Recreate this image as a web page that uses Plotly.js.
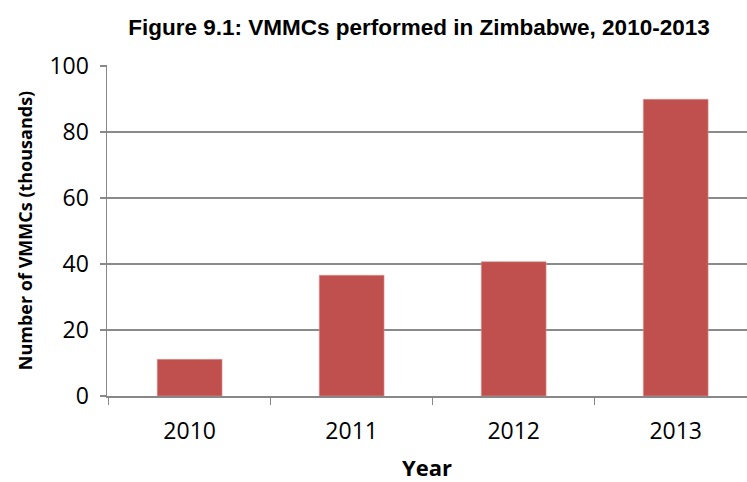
<!DOCTYPE html>
<html>
<head>
<meta charset="utf-8">
<script src="https://cdn.plot.ly/plotly-3.0.1.min.js"></script>
<style>html,body{margin:0;padding:0;background:#fff;}#chart{width:747px;height:482px;}</style>
</head>
<body>
<div id="chart"></div>
<script>
const years = ["2010", "2011", "2012", "2013"];
const vmmcThousands = [11.1, 36.6, 40.7, 89.9];
const yTicks = [0, 20, 40, 60, 80, 100];

const trace = {
  type: "bar",
  x: years,
  y: vmmcThousands,
  marker: {color: "#C0504D", line: {color: "#D99795", width: 0.6}},
  hoverinfo: "x+y"
};

const layout = {
  width: 747,
  height: 482,
  margin: {l: 107, r: 0, t: 65, b: 86},
  paper_bgcolor: "#ffffff",
  plot_bgcolor: "#ffffff",
  bargap: 0.6,
  showlegend: false,
  title: {
    text: "<b>Figure 9.1: VMMCs performed in Zimbabwe, 2010-2013</b>",
    font: {family: "Liberation Sans, Arial, sans-serif", size: 22.5, color: "#000"},
    x: 419 / 747, xref: "container", xanchor: "center",
    y: 1 - 27 / 482, yref: "container", yanchor: "middle"
  },
  xaxis: {
    type: "category",
    range: [-0.51, 3.44],
    tickson: "boundaries",
    ticks: "outside",
    ticklen: 7,
    tickcolor: "#888",
    tickwidth: 1.5,
    ticklabelstandoff: 14,
    showline: true,
    linecolor: "#888",
    linewidth: 1.5,
    showgrid: false,
    tickfont: {family: "Open Sans, sans-serif", size: 23, color: "#000"},
    title: {text: "<b>Year</b>", font: {family: "Open Sans, sans-serif", size: 22, color: "#000"}, standoff: 15}
  },
  yaxis: {
    range: [0, 100.3],
    tickvals: yTicks,
    ticktext: yTicks.map(String),
    ticks: "outside",
    ticklen: 6,
    tickcolor: "#888",
    tickwidth: 1.5,
    ticklabelstandoff: 6,
    showline: true,
    linecolor: "#888",
    linewidth: 1.5,
    showgrid: true,
    gridcolor: "#8a8a8a",
    gridwidth: 1.5,
    zeroline: false,
    tickfont: {family: "Open Sans, sans-serif", size: 23, color: "#000"},
    title: {text: "<b>Number of VMMCs (thousands)</b>", font: {family: "Open Sans, sans-serif", size: 18, color: "#000"}, standoff: 12}
  }
};

Plotly.newPlot("chart", [trace], layout, {displayModeBar: false, staticPlot: true});
</script>
</body>
</html>
